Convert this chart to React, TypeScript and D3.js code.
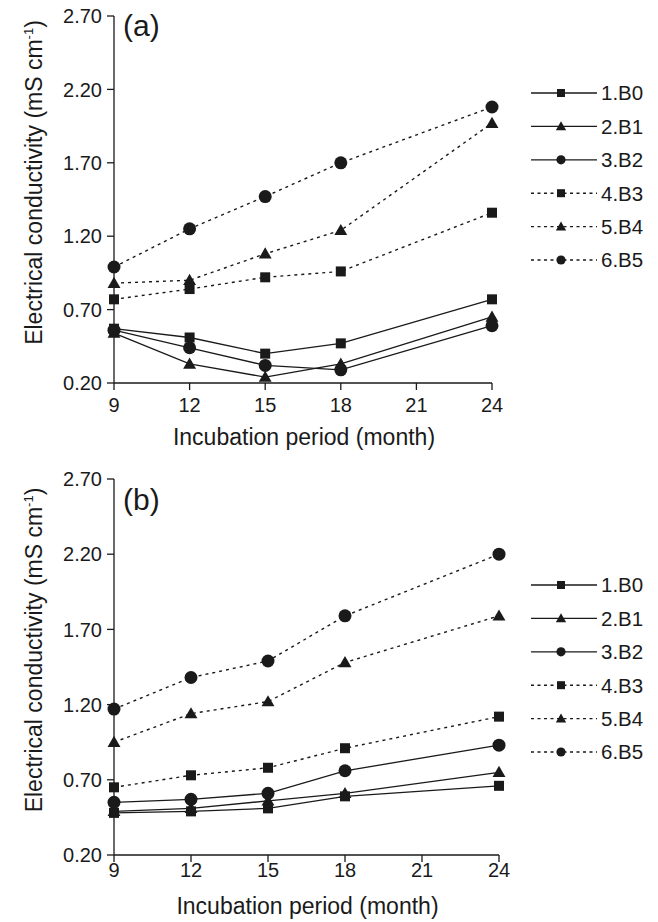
import React from "react";
import * as d3 from "d3";

const months = [9, 12, 15, 18, 24];
const xTicks = [9, 12, 15, 18, 21, 24];
const yTicks = [0.2, 0.7, 1.2, 1.7, 2.2, 2.7];
const seriesNames = ["1.B0", "2.B1", "3.B2", "4.B3", "5.B4", "6.B5"];
const seriesShapes = ["square", "triangle", "circle", "square", "triangle", "circle"];
const seriesDashed = [false, false, false, true, true, true];

const panelA_B0 = [0.57, 0.51, 0.40, 0.47, 0.77];
const panelA_B1 = [0.54, 0.33, 0.24, 0.33, 0.65];
const panelA_B2 = [0.56, 0.44, 0.32, 0.29, 0.59];
const panelA_B3 = [0.77, 0.84, 0.92, 0.96, 1.36];
const panelA_B4 = [0.88, 0.90, 1.08, 1.24, 1.97];
const panelA_B5 = [0.99, 1.25, 1.47, 1.70, 2.08];

const panelB_B0 = [0.48, 0.49, 0.51, 0.59, 0.66];
const panelB_B1 = [0.49, 0.51, 0.56, 0.61, 0.75];
const panelB_B2 = [0.55, 0.57, 0.61, 0.76, 0.93];
const panelB_B3 = [0.65, 0.73, 0.78, 0.91, 1.12];
const panelB_B4 = [0.95, 1.14, 1.22, 1.48, 1.79];
const panelB_B5 = [1.17, 1.38, 1.49, 1.79, 2.20];

const panelAData = [panelA_B0, panelA_B1, panelA_B2, panelA_B3, panelA_B4, panelA_B5];
const panelBData = [panelB_B0, panelB_B1, panelB_B2, panelB_B3, panelB_B4, panelB_B5];

const FONT = "'Liberation Sans', Arial, Helvetica, sans-serif";
const INK = "#1a1a1a";

function Marker({ shape, x, y, big }: { shape: string; x: number; y: number; big: boolean }) {
  if (shape === "square") {
    const s = big ? 10 : 8;
    return <rect x={x - s / 2} y={y - s / 2} width={s} height={s} fill={INK} />;
  }
  if (shape === "circle") {
    return <circle cx={x} cy={y} r={big ? 6.5 : 4.6} fill={INK} />;
  }
  const p = d3.symbol().type(d3.symbolTriangle).size(big ? 72 : 46)();
  return <path d={p || ""} transform={`translate(${x},${y + (big ? 1 : 0.8)})`} fill={INK} />;
}

function Panel({
  data,
  label,
  x0,
  x1,
  yTop,
  yBot,
  legendY0,
  legendStep,
  tickBaseline,
  titleBaseline,
  labelBaseline,
}: {
  data: number[][];
  label: string;
  x0: number;
  x1: number;
  yTop: number;
  yBot: number;
  legendY0: number;
  legendStep: number;
  tickBaseline: number;
  titleBaseline: number;
  labelBaseline: number;
}) {
  const x = d3.scaleLinear().domain([9, 24]).range([x0, x1]);
  const y = d3.scaleLinear().domain([0.2, 2.7]).range([yBot, yTop]);
  const line = d3
    .line<[number, number]>()
    .x((d) => x(d[0]))
    .y((d) => y(d[1]));
  const fmt = d3.format(".2f");
  const ylabCenter = (yTop + yBot) / 2 - 17;
  return (
    <g>
      <line x1={x0} x2={x0} y1={yTop} y2={yBot} stroke={INK} strokeWidth={1.3} />
      <line x1={x0} x2={x1} y1={yBot} y2={yBot} stroke={INK} strokeWidth={1.3} />
      {yTicks.map((t) => (
        <g key={"y" + t}>
          <line x1={x0 - 7} x2={x0} y1={y(t)} y2={y(t)} stroke={INK} strokeWidth={1.3} />
          <text
            x={x0 - 12}
            y={y(t)}
            dy="0.36em"
            textAnchor="end"
            fontSize={20}
            fontFamily={FONT}
            fill={INK}
          >
            {fmt(t)}
          </text>
        </g>
      ))}
      {xTicks.map((t) => (
        <g key={"x" + t}>
          <line x1={x(t)} x2={x(t)} y1={yBot} y2={yBot + 7} stroke={INK} strokeWidth={1.3} />
          <text x={x(t)} y={tickBaseline} textAnchor="middle" fontSize={20} fontFamily={FONT} fill={INK}>
            {t}
          </text>
        </g>
      ))}
      <text
        x={(x0 + x1) / 2 + 1}
        y={titleBaseline}
        textAnchor="middle"
        fontSize={23}
        fontFamily={FONT}
        fill={INK}
      >
        Incubation period (month)
      </text>
      <text
        transform={`translate(42,${ylabCenter}) rotate(-90)`}
        textAnchor="middle"
        fontSize={23}
        fontFamily={FONT}
        fill={INK}
      >
        Electrical conductivity (mS cm
        <tspan fontSize={13} dy={-9}>
          -1
        </tspan>
        <tspan dy={9}>)</tspan>
      </text>
      <text x={123} y={labelBaseline} fontSize={30} fontFamily={FONT} fill={INK}>
        {label}
      </text>
      {data.map((vals, i) => {
        const pts: [number, number][] = months.map((m, j) => [m, vals[j]]);
        return (
          <g key={"s" + i}>
            <path
              d={line(pts) || ""}
              fill="none"
              stroke={INK}
              strokeWidth={seriesDashed[i] ? 1.4 : 1.3}
              strokeDasharray={seriesDashed[i] ? "3,4" : undefined}
            />
            {pts.map((p, j) => (
              <Marker key={j} shape={seriesShapes[i]} x={x(p[0])} y={y(p[1])} big={true} />
            ))}
          </g>
        );
      })}
      {seriesNames.map((name, i) => {
        const ly = legendY0 + i * legendStep;
        return (
          <g key={"l" + i}>
            <line
              x1={531}
              x2={597}
              y1={ly}
              y2={ly}
              stroke={INK}
              strokeWidth={seriesDashed[i] ? 1.4 : 1.3}
              strokeDasharray={seriesDashed[i] ? "3,3.5" : undefined}
            />
            <Marker shape={seriesShapes[i]} x={561} y={ly} big={false} />
            <text x={601} y={ly} dy="0.36em" fontSize={20.5} fontFamily={FONT} fill={INK}>
              {name}
            </text>
          </g>
        );
      })}
    </g>
  );
}

export default function App() {
  return (
    <svg
      width={658}
      height={922}
      style={{ position: "absolute", left: 0, top: 0, background: "#fff" }}
    >
      <rect x={0} y={0} width={658} height={922} fill="#fff" />
      <Panel
        data={panelAData}
        label="(a)"
        x0={114}
        x1={492}
        yTop={16}
        yBot={383}
        legendY0={93}
        legendStep={33.4}
        tickBaseline={412}
        titleBaseline={445}
        labelBaseline={36}
      />
      <Panel
        data={panelBData}
        label="(b)"
        x0={114}
        x1={499}
        yTop={479}
        yBot={855}
        legendY0={585}
        legendStep={33.4}
        tickBaseline={877}
        titleBaseline={914}
        labelBaseline={510}
      />
    </svg>
  );
}
